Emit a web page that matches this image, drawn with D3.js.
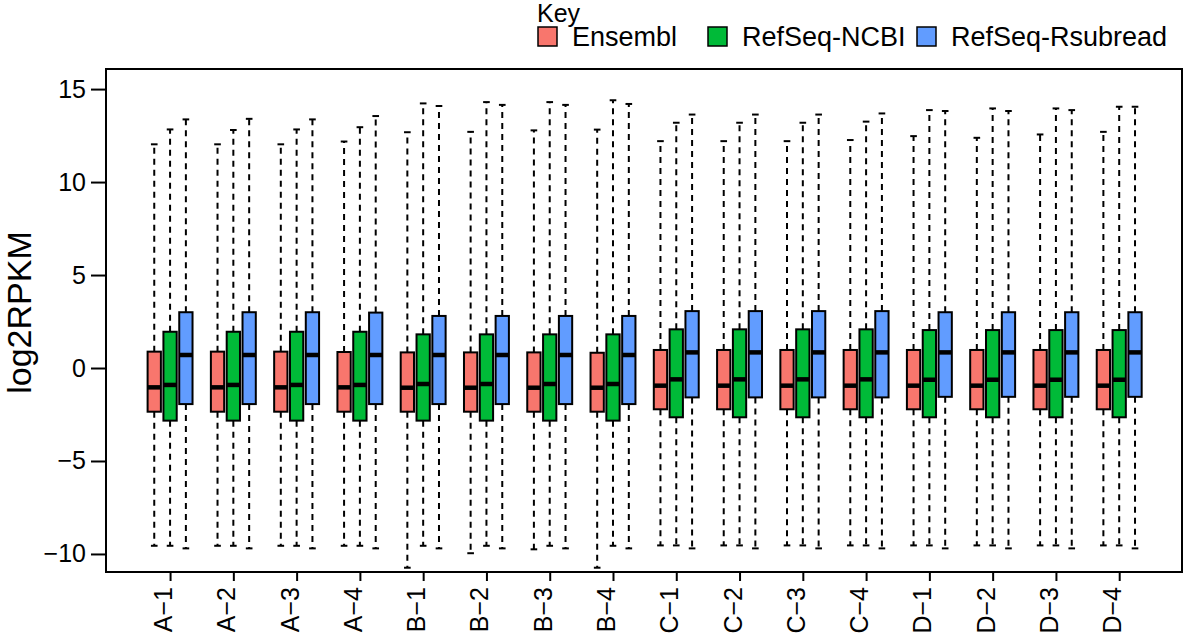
<!DOCTYPE html>
<html>
<head>
<meta charset="utf-8">
<script src="https://cdn.jsdelivr.net/npm/d3@7"></script>
<style>
  body { margin: 0; background: #fff; }
  text { font-family: "Liberation Sans", Arial, sans-serif; }
</style>
</head>
<body>
<script>
const samples = ["A−1", "A−2", "A−3", "A−4", "B−1", "B−2", "B−3", "B−4",
                 "C−1", "C−2", "C−3", "C−4", "D−1", "D−2", "D−3", "D−4"];
const seriesNames = ["Ensembl", "RefSeq-NCBI", "RefSeq-Rsubread"];
const seriesColors = ["#F8766D", "#00BA38", "#619CFF"];
const yTicks = [-10, -5, 0, 5, 10, 15];

// Ensembl
const ensLo  = [-9.56, -9.56, -9.56, -9.56, -10.74, -9.96, -9.75, -10.74, -9.54, -9.54, -9.54, -9.54, -9.54, -9.54, -9.54, -9.54];
const ensQ1  = [-2.35, -2.35, -2.35, -2.35, -2.35, -2.35, -2.35, -2.35, -2.22, -2.22, -2.22, -2.22, -2.22, -2.22, -2.22, -2.22];
const ensMed = [-1.04, -1.04, -1.04, -1.04, -1.06, -1.06, -1.06, -1.06, -0.95, -0.95, -0.95, -0.95, -0.95, -0.95, -0.95, -0.95];
const ensQ3  = [0.88, 0.88, 0.88, 0.86, 0.84, 0.84, 0.84, 0.82, 0.97, 0.97, 0.97, 0.97, 0.97, 0.97, 0.97, 0.97];
const ensHi  = [12.03, 12.03, 12.03, 12.18, 12.68, 12.7, 12.78, 12.82, 12.2, 12.2, 12.2, 12.26, 12.47, 12.38, 12.56, 12.7];

// RefSeq-NCBI
const ncbiLo  = [-9.56, -9.56, -9.56, -9.56, -9.56, -9.56, -9.56, -9.56, -9.54, -9.54, -9.54, -9.54, -9.54, -9.54, -9.54, -9.54];
const ncbiQ1  = [-2.83, -2.83, -2.83, -2.83, -2.83, -2.83, -2.83, -2.83, -2.65, -2.65, -2.65, -2.65, -2.65, -2.65, -2.65, -2.65];
const ncbiMed = [-0.91, -0.91, -0.91, -0.91, -0.86, -0.86, -0.86, -0.86, -0.61, -0.61, -0.61, -0.61, -0.63, -0.63, -0.63, -0.63];
const ncbiQ3  = [1.95, 1.95, 1.95, 1.95, 1.81, 1.81, 1.81, 1.81, 2.08, 2.08, 2.08, 2.08, 2.04, 2.04, 2.04, 2.04];
const ncbiHi  = [12.83, 12.8, 12.83, 12.95, 14.23, 14.3, 14.3, 14.4, 13.19, 13.19, 13.19, 13.25, 13.87, 13.96, 13.96, 14.05];

// RefSeq-Rsubread
const rsubLo  = [-9.7, -9.7, -9.7, -9.7, -9.7, -9.7, -9.7, -9.7, -9.7, -9.7, -9.7, -9.7, -9.7, -9.7, -9.7, -9.7];
const rsubQ1  = [-1.94, -1.94, -1.94, -1.94, -1.94, -1.94, -1.94, -1.94, -1.58, -1.58, -1.58, -1.58, -1.55, -1.55, -1.55, -1.55];
const rsubMed = [0.70, 0.70, 0.70, 0.70, 0.70, 0.70, 0.70, 0.70, 0.84, 0.84, 0.84, 0.84, 0.84, 0.84, 0.84, 0.84];
const rsubQ3  = [3.0, 3.0, 3.0, 2.98, 2.8, 2.8, 2.8, 2.8, 3.06, 3.06, 3.06, 3.06, 3.0, 3.0, 3.0, 3.0];
const rsubHi  = [13.37, 13.4, 13.37, 13.55, 14.09, 14.15, 14.15, 14.2, 13.63, 13.63, 13.63, 13.69, 13.82, 13.82, 13.87, 14.05];

const stats = [
  [ensLo, ensQ1, ensMed, ensQ3, ensHi],
  [ncbiLo, ncbiQ1, ncbiMed, ncbiQ3, ncbiHi],
  [rsubLo, rsubQ1, rsubMed, rsubQ3, rsubHi]
];

const width = 1184, height = 636;
const plot = { left: 106, right: 1182, top: 69, bottom: 572 };

const svg = d3.select("body").append("svg")
  .attr("width", width)
  .attr("height", height);

// boxes sit on slots 4*g + s, one empty slot between groups
const x = d3.scaleLinear().domain([-3.05, 64.97]).range([plot.left, plot.right]);
const y = d3.scaleLinear().domain([-10.97, 16.08]).range([plot.bottom, plot.top]);
const slotW = x(1) - x(0);
const boxW = slotW * 0.84;

const boxes = [];
samples.forEach((name, g) => {
  seriesNames.forEach((s, k) => {
    const st = stats[k];
    boxes.push({
      slot: 4 * g + k, color: seriesColors[k],
      lo: st[0][g], q1: st[1][g], med: st[2][g], q3: st[3][g], hi: st[4][g]
    });
  });
});

const gb = svg.append("g").selectAll("g").data(boxes).enter().append("g");

// whiskers
gb.append("line")
  .attr("x1", d => x(d.slot)).attr("x2", d => x(d.slot))
  .attr("y1", d => y(d.q3)).attr("y2", d => y(d.hi))
  .attr("stroke", "#000").attr("stroke-width", 2).attr("stroke-dasharray", "6,5");
gb.append("line")
  .attr("x1", d => x(d.slot)).attr("x2", d => x(d.slot))
  .attr("y1", d => y(d.q1)).attr("y2", d => y(d.lo))
  .attr("stroke", "#000").attr("stroke-width", 2).attr("stroke-dasharray", "6,5");
// staples
["hi", "lo"].forEach(key => {
  gb.append("line")
    .attr("x1", d => x(d.slot) - boxW / 4).attr("x2", d => x(d.slot) + boxW / 4)
    .attr("y1", d => y(d[key])).attr("y2", d => y(d[key]))
    .attr("stroke", "#000").attr("stroke-width", 2);
});
// box
gb.append("rect")
  .attr("x", d => x(d.slot) - boxW / 2)
  .attr("y", d => y(d.q3))
  .attr("width", boxW)
  .attr("height", d => y(d.q1) - y(d.q3))
  .attr("fill", d => d.color)
  .attr("stroke", "#000").attr("stroke-width", 2);
// median
gb.append("line")
  .attr("x1", d => x(d.slot) - boxW / 2).attr("x2", d => x(d.slot) + boxW / 2)
  .attr("y1", d => y(d.med)).attr("y2", d => y(d.med))
  .attr("stroke", "#000").attr("stroke-width", 4.5);

// frame
svg.append("rect")
  .attr("x", plot.left).attr("y", plot.top)
  .attr("width", plot.right - plot.left).attr("height", plot.bottom - plot.top)
  .attr("fill", "none").attr("stroke", "#000").attr("stroke-width", 2);

// y axis
const yAxis = svg.append("g")
  .attr("transform", `translate(${plot.left},0)`)
  .call(d3.axisLeft(y).tickValues(yTicks).tickSize(15).tickPadding(5).tickFormat(d3.format("d")));
yAxis.select(".domain")
  .attr("d", `M0,${y(-10)}V${y(15)}`).attr("stroke-width", 2);
yAxis.selectAll(".tick line").attr("stroke-width", 2);
yAxis.selectAll(".tick text")
  .attr("font-size", 25).attr("fill", "#000")
  .attr("font-family", "Liberation Sans, Arial, sans-serif");

// x axis
const xAxis = svg.append("g")
  .attr("transform", `translate(0,${plot.bottom})`)
  .call(d3.axisBottom(x).tickValues(samples.map((s, g) => 4 * g + 1)).tickSize(9).tickFormat(""));
xAxis.select(".domain")
  .attr("d", `M${x(1)},0H${x(61)}`).attr("stroke-width", 2);
xAxis.selectAll(".tick line").attr("stroke-width", 2);

svg.append("g").selectAll("text").data(samples).enter().append("text")
  .attr("transform", (d, g) => `translate(${x(4 * g + 1) + 2},587) rotate(-90)`)
  .attr("text-anchor", "end")
  .attr("font-size", 25)
  .text(d => d);

// y title
svg.append("text")
  .attr("transform", `translate(31,${(plot.top + plot.bottom) / 2 - 8}) rotate(-90)`)
  .attr("text-anchor", "middle")
  .attr("font-size", 34)
  .text("log2RPKM");

// legend
const legend = svg.append("g");
legend.append("text").attr("x", 537).attr("y", 22).attr("font-size", 25).text("Key");
const legendX = [538, 708, 917];
seriesNames.forEach((s, k) => {
  legend.append("rect")
    .attr("x", legendX[k]).attr("y", 27).attr("width", 19).attr("height", 19)
    .attr("fill", seriesColors[k]).attr("stroke", "#000").attr("stroke-width", 1.5);
  legend.append("text")
    .attr("x", legendX[k] + 34).attr("y", 46)
    .attr("font-size", 27)
    .text(s);
});
</script>
</body>
</html>
